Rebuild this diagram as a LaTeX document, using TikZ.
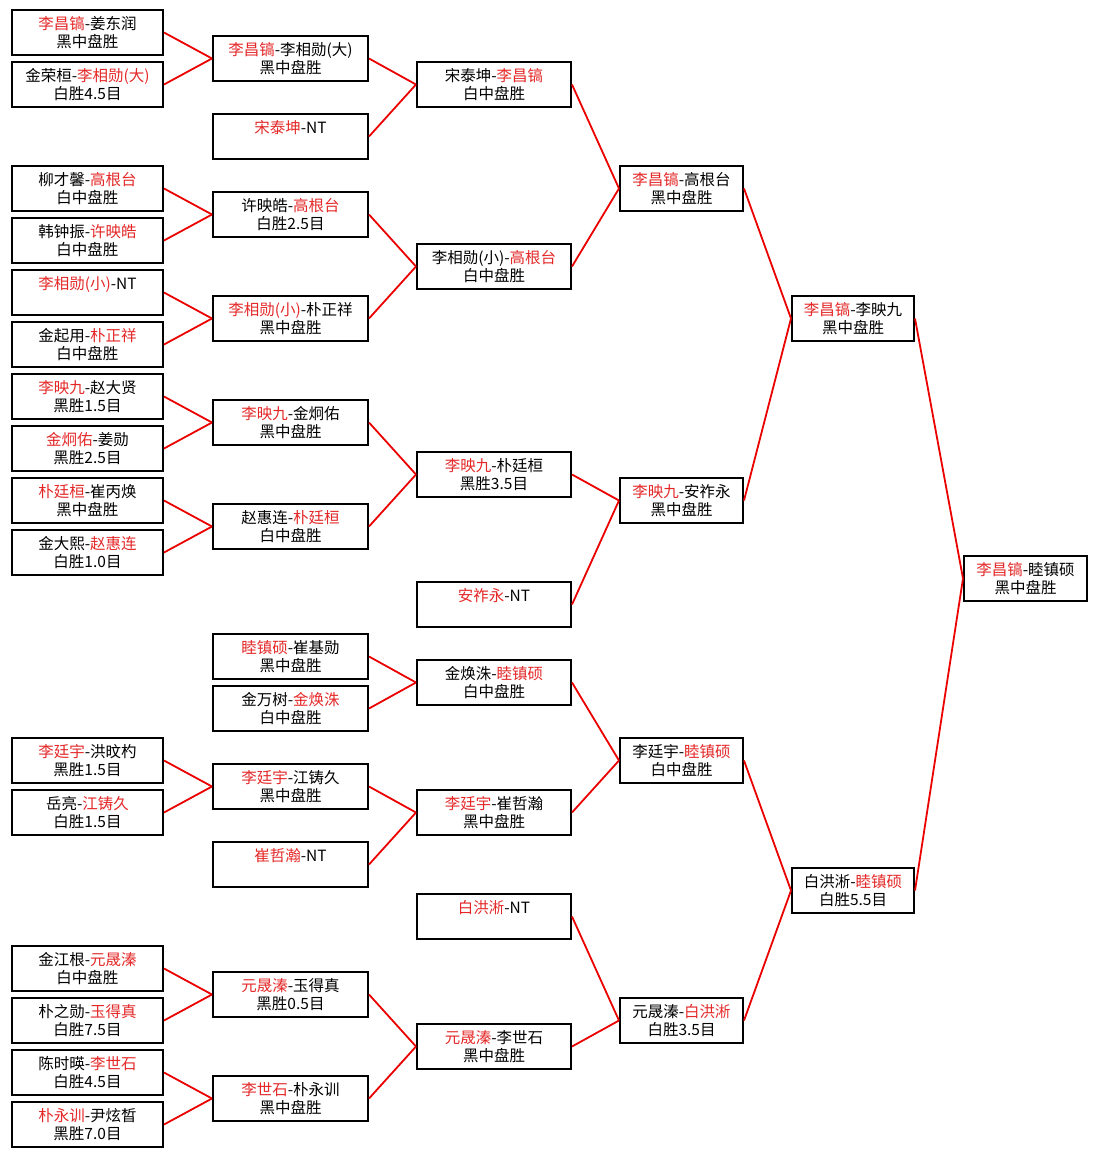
\documentclass[tikz,border=0pt]{standalone}
\usepackage{fontspec}
\setmainfont{Noto Sans CJK SC}

\definecolor{winred}{RGB}{228,40,40}
\definecolor{linkred}{RGB}{235,0,0}
\newcommand{\win}[1]{\textcolor{winred}{#1}}

\begin{document}
\begin{tikzpicture}[
    x=1pt, y=-1pt,
    game/.style={draw, rectangle, line width=2pt, minimum height=45pt, inner sep=0pt, align=center, font=\fontsize{15.5}{18}\selectfont},
    r1/.style={game, minimum width=151pt},
    r2/.style={game, minimum width=155pt},
    r3/.style={game, minimum width=154pt},
    r4/.style={game, minimum width=123pt},
    link/.style={linkred, line width=1.8pt}
]

    \useasboundingbox (0,0) rectangle (1097,1157);

    \begin{scope}[yshift=-32.5pt, y=-52pt]
    % Round 1
    \node[r1] (a0)  at (87.5,0)  {\win{李昌镐}-姜东润\\黑中盘胜};
    \node[r1] (a1)  at (87.5,1)  {金荣桓-\win{李相勋(大)}\\白胜4.5目};
    \node[r1] (a3)  at (87.5,3)  {柳才馨-\win{高根台}\\白中盘胜};
    \node[r1] (a4)  at (87.5,4)  {韩钟振-\win{许映皓}\\白中盘胜};
    \node[r1] (a5)  at (87.5,5)  {\win{李相勋(小)}-NT\\\phantom{黑中盘胜}};
    \node[r1] (a6)  at (87.5,6)  {金起用-\win{朴正祥}\\白中盘胜};
    \node[r1] (a7)  at (87.5,7)  {\win{李映九}-赵大贤\\黑胜1.5目};
    \node[r1] (a8)  at (87.5,8)  {\win{金炯佑}-姜勋\\黑胜2.5目};
    \node[r1] (a9)  at (87.5,9)  {\win{朴廷桓}-崔丙焕\\黑中盘胜};
    \node[r1] (a10) at (87.5,10) {金大熙-\win{赵惠连}\\白胜1.0目};
    \node[r1] (a14) at (87.5,14) {\win{李廷宇}-洪旼杓\\黑胜1.5目};
    \node[r1] (a15) at (87.5,15) {岳亮-\win{江铸久}\\白胜1.5目};
    \node[r1] (a18) at (87.5,18) {金江根-\win{元晟溱}\\白中盘胜};
    \node[r1] (a19) at (87.5,19) {朴之勋-\win{玉得真}\\白胜7.5目};
    \node[r1] (a20) at (87.5,20) {陈时暎-\win{李世石}\\白胜4.5目};
    \node[r1] (a21) at (87.5,21) {\win{朴永训}-尹炫晳\\黑胜7.0目};

    % Round 2
    \node[r2] (b0)  at (290.5,0.5)  {\win{李昌镐}-李相勋(大)\\黑中盘胜};
    \node[r2] (b1)  at (290.5,2)    {\win{宋泰坤}-NT\\\phantom{黑中盘胜}};
    \node[r2] (b2)  at (290.5,3.5)  {许映皓-\win{高根台}\\白胜2.5目};
    \node[r2] (b3)  at (290.5,5.5)  {\win{李相勋(小)}-朴正祥\\黑中盘胜};
    \node[r2] (b4)  at (290.5,7.5)  {\win{李映九}-金炯佑\\黑中盘胜};
    \node[r2] (b5)  at (290.5,9.5)  {赵惠连-\win{朴廷桓}\\白中盘胜};
    \node[r2] (b6)  at (290.5,12)   {\win{睦镇硕}-崔基勋\\黑中盘胜};
    \node[r2] (b7)  at (290.5,13)   {金万树-\win{金焕洙}\\白中盘胜};
    \node[r2] (b8)  at (290.5,14.5) {\win{李廷宇}-江铸久\\黑中盘胜};
    \node[r2] (b9)  at (290.5,16)   {\win{崔哲瀚}-NT\\\phantom{黑中盘胜}};
    \node[r2] (b10) at (290.5,18.5) {\win{元晟溱}-玉得真\\黑胜0.5目};
    \node[r2] (b11) at (290.5,20.5) {\win{李世石}-朴永训\\黑中盘胜};

    % Round 3
    \node[r3] (c0) at (494,1)    {宋泰坤-\win{李昌镐}\\白中盘胜};
    \node[r3] (c1) at (494,4.5)  {李相勋(小)-\win{高根台}\\白中盘胜};
    \node[r3] (c2) at (494,8.5)  {\win{李映九}-朴廷桓\\黑胜3.5目};
    \node[r3] (c3) at (494,11)   {\win{安祚永}-NT\\\phantom{黑中盘胜}};
    \node[r3] (c4) at (494,12.5) {金焕洙-\win{睦镇硕}\\白中盘胜};
    \node[r3] (c5) at (494,15)   {\win{李廷宇}-崔哲瀚\\黑中盘胜};
    \node[r3] (c6) at (494,17)   {\win{白洪淅}-NT\\\phantom{黑中盘胜}};
    \node[r3] (c7) at (494,19.5) {\win{元晟溱}-李世石\\黑中盘胜};

    % Quarter final
    \node[r4] (d0) at (681.5,3)  {\win{李昌镐}-高根台\\黑中盘胜};
    \node[r4] (d1) at (681.5,9)  {\win{李映九}-安祚永\\黑中盘胜};
    \node[r4] (d2) at (681.5,14) {李廷宇-\win{睦镇硕}\\白中盘胜};
    \node[r4] (d3) at (681.5,19) {元晟溱-\win{白洪淅}\\白胜3.5目};

    % Semi final
    \node[r4, minimum width=122pt] (e0) at (853,5.5)  {\win{李昌镐}-李映九\\黑中盘胜};
    \node[r4, minimum width=122pt] (e1) at (853,16.5) {白洪淅-\win{睦镇硕}\\白胜5.5目};

    % Final
    \node[r4] (f0) at (1025.5,10.5) {\win{李昌镐}-睦镇硕\\黑中盘胜};
    \end{scope}

    % Links
    \foreach \s/\t in {a0/b0, a1/b0, a3/b2, a4/b2, a5/b3, a6/b3, a7/b4, a8/b4, a9/b5, a10/b5,
                       a14/b8, a15/b8, a18/b10, a19/b10, a20/b11, a21/b11,
                       b0/c0, b1/c0, b2/c1, b3/c1, b4/c2, b5/c2, b6/c4, b7/c4,
                       b8/c5, b9/c5, b10/c7, b11/c7,
                       c0/d0, c1/d0, c2/d1, c3/d1, c4/d2, c5/d2, c6/d3, c7/d3,
                       d0/e0, d1/e0, d2/e1, d3/e1, e0/f0, e1/f0} {
        \draw[link] (\s.east) -- (\t.west);
    }

\end{tikzpicture}
\end{document}
